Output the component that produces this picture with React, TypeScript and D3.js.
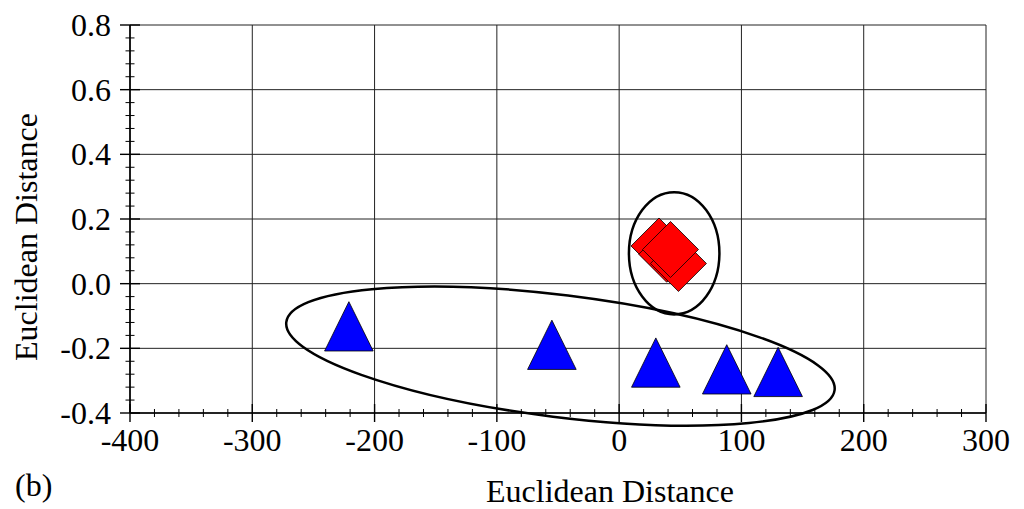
import React, { useEffect, useRef } from "react";
import * as d3 from "d3";

// tick values and labels
const xTicks = [-400, -300, -200, -100, 0, 100, 200, 300];
const xTickLabels = ["-400", "-300", "-200", "-100", "0", "100", "200", "300"];
const yTicks = [0.8, 0.6, 0.4, 0.2, 0.0, -0.2, -0.4];
const yTickLabels = ["0.8", "0.6", "0.4", "0.2", "0.0", "-0.2", "-0.4"];

// group 1 (blue triangles)
const triX = [-221, -55, 30, 88, 130];
const triY = [-0.132, -0.189, -0.244, -0.265, -0.273];

// group 2 (red diamonds)
const diaX = [32.6, 38.9, 48.5, 42];
const diaY = [0.1165, 0.091, 0.0624, 0.1057];

// group outlines: center, half axes (data units), tilt in degrees
const ellCx = [-48, 45];
const ellCy = [-0.224, 0.094];
const ellRx = [225.9, 37];
const ellRy = [0.1887, 0.189];
const ellTilt = [7.07, 0];

const App = () => {
  const svgRef = useRef<SVGSVGElement>(null);

  useEffect(() => {
    document.body.style.margin = "0";
    const width = 1024;
    const height = 509;
    const margin = { top: 25, right: 38, bottom: 96, left: 130 };
    const font = "'Liberation Serif', 'Times New Roman', serif";
    const fs = 32;

    const svg = d3.select(svgRef.current);
    svg.selectAll("*").remove();
    svg.attr("width", width).attr("height", height);

    const x = d3.scaleLinear().domain([-400, 300]).range([margin.left, width - margin.right]);
    const y = d3.scaleLinear().domain([-0.4, 0.8]).range([height - margin.bottom, margin.top]);

    const [x0, x1] = x.range();
    const [y0, y1] = y.range();

    // grid
    svg
      .append("g")
      .selectAll("line")
      .data(xTicks)
      .join("line")
      .attr("x1", (d) => x(d))
      .attr("x2", (d) => x(d))
      .attr("y1", y1)
      .attr("y2", y0)
      .attr("stroke", "#222")
      .attr("stroke-width", 1);
    svg
      .append("g")
      .selectAll("line")
      .data(yTicks)
      .join("line")
      .attr("x1", x0)
      .attr("x2", x1)
      .attr("y1", (d) => y(d))
      .attr("y2", (d) => y(d))
      .attr("stroke", "#222")
      .attr("stroke-width", 1);

    // axis lines
    svg.append("line").attr("x1", x0).attr("x2", x0).attr("y1", y1).attr("y2", y0)
      .attr("stroke", "#000").attr("stroke-width", 1.6);
    svg.append("line").attr("x1", x0).attr("x2", x1).attr("y1", y0).attr("y2", y0)
      .attr("stroke", "#000").attr("stroke-width", 1.6);

    // minor ticks
    const xMinor = d3.range(-400, 300.1, 20).filter((v) => v % 100 !== 0);
    const yMinor = d3.range(-0.4, 0.801, 0.04).filter((v) => Math.abs(Math.round(v * 5) - v * 5) > 0.01);
    svg.append("g").selectAll("line").data(xMinor).join("line")
      .attr("x1", (d) => x(d)).attr("x2", (d) => x(d))
      .attr("y1", y0 - 4).attr("y2", y0 + 4)
      .attr("stroke", "#000").attr("stroke-width", 1);
    svg.append("g").selectAll("line").data(yMinor).join("line")
      .attr("x1", x0 - 4.5).attr("x2", x0 + 4.5)
      .attr("y1", (d) => y(d)).attr("y2", (d) => y(d))
      .attr("stroke", "#000").attr("stroke-width", 1);

    // major ticks
    svg.append("g").selectAll("line").data(xTicks).join("line")
      .attr("x1", (d) => x(d)).attr("x2", (d) => x(d))
      .attr("y1", y0 - 9).attr("y2", y0 + 9)
      .attr("stroke", "#000").attr("stroke-width", 1.4);
    svg.append("g").selectAll("line").data(yTicks).join("line")
      .attr("x1", x0 - 10).attr("x2", x0 + 10)
      .attr("y1", (d) => y(d)).attr("y2", (d) => y(d))
      .attr("stroke", "#000").attr("stroke-width", 1.4);

    // tick labels
    svg.append("g").selectAll("text").data(xTicks).join("text")
      .attr("x", (d) => x(d))
      .attr("y", y0 + 38)
      .attr("text-anchor", "middle")
      .attr("font-family", font)
      .attr("font-size", fs)
      .text((d, i) => xTickLabels[i]);
    svg.append("g").selectAll("text").data(yTicks).join("text")
      .attr("x", x0 - 19)
      .attr("y", (d) => y(d) + 11)
      .attr("text-anchor", "end")
      .attr("font-family", font)
      .attr("font-size", fs)
      .text((d, i) => yTickLabels[i]);

    // axis titles
    svg.append("text")
      .attr("x", 610)
      .attr("y", 502)
      .attr("text-anchor", "middle")
      .attr("font-family", font)
      .attr("font-size", fs)
      .text("Euclidean Distance");
    svg.append("text")
      .attr("transform", `translate(37, ${(y0 + y1) / 2 + 18}) rotate(-90)`)
      .attr("text-anchor", "middle")
      .attr("font-family", font)
      .attr("font-size", fs)
      .text("Euclidean Distance");
    svg.append("text")
      .attr("x", 15)
      .attr("y", 496)
      .attr("font-family", font)
      .attr("font-size", fs)
      .text("(b)");

    // large outline first
    const ellipse = (i: number) =>
      svg.append("ellipse")
        .attr("cx", x(ellCx[i]))
        .attr("cy", y(ellCy[i]))
        .attr("rx", x(ellCx[i] + ellRx[i]) - x(ellCx[i]))
        .attr("ry", y(ellCy[i]) - y(ellCy[i] + ellRy[i]))
        .attr("transform", `rotate(${ellTilt[i]}, ${x(ellCx[i])}, ${y(ellCy[i])})`)
        .attr("fill", "none")
        .attr("stroke", "#000")
        .attr("stroke-width", 2.5);
    ellipse(0);

    // triangles
    const tw = 48.6;
    const th = 49.3;
    const tri = `M0,${-th / 2}L${tw / 2},${th / 2}L${-tw / 2},${th / 2}Z`;
    svg.append("g").selectAll("path").data(triX).join("path")
      .attr("transform", (d, i) => `translate(${x(d)},${y(triY[i])})`)
      .attr("d", tri)
      .attr("fill", "#0000ff")
      .attr("stroke", "#000")
      .attr("stroke-width", 0.8);

    ellipse(1);

    // diamonds
    const r = 28;
    const dia = `M0,${-r}L${r},0L0,${r}L${-r},0Z`;
    svg.append("g").selectAll("path").data(diaX).join("path")
      .attr("transform", (d, i) => `translate(${x(d)},${y(diaY[i])})`)
      .attr("d", dia)
      .attr("fill", "#ff0000")
      .attr("stroke", "#000")
      .attr("stroke-width", 0.8);
  }, []);

  return <svg ref={svgRef}></svg>;
};

export default App;
